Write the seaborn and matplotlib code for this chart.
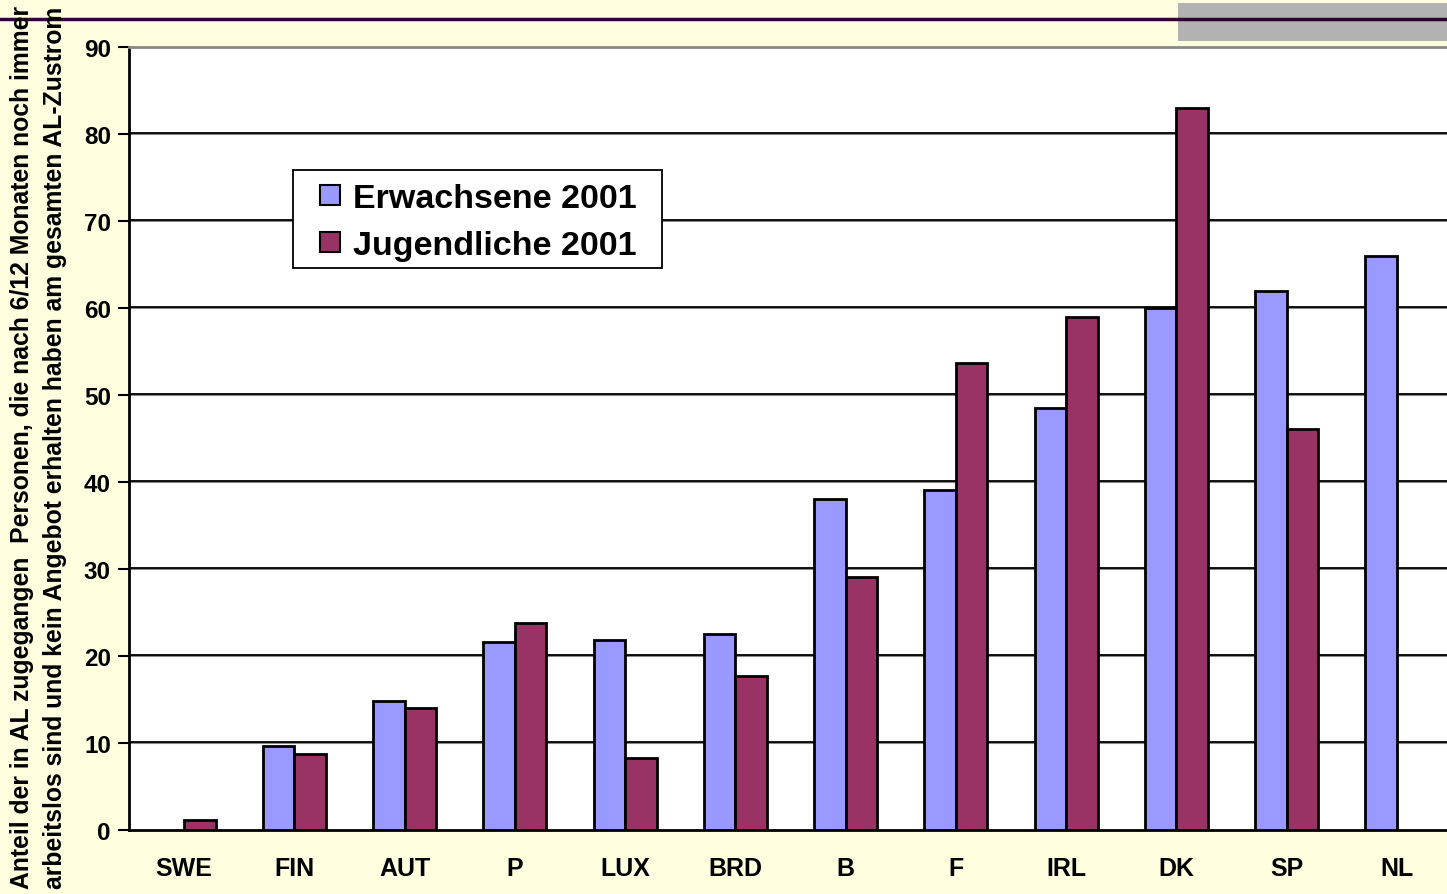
import matplotlib
matplotlib.use("Agg")
import matplotlib.pyplot as plt
import seaborn as sns
import numpy as np
import pandas as pd
from matplotlib.patches import Rectangle
from matplotlib.lines import Line2D

countries = ["SWE", "FIN", "AUT", "P", "LUX", "BRD", "B", "F", "IRL", "DK", "SP", "NL"]
erwachsene = [np.nan, 9.6, 14.8, 21.6, 21.8, 22.5, 38.0, 39.1, 48.5, 60.0, 62.0, 66.0]
jugendliche = [1.1, 8.7, 14.0, 23.8, 8.3, 17.7, 29.1, 53.7, 59.0, 83.0, 46.1, np.nan]
series_names = ["Erwachsene 2001", "Jugendliche 2001"]
series_colors = ["#9999FF", "#993366"]
yticks = [0, 10, 20, 30, 40, 50, 60, 70, 80, 90]
ylabel_lines = [
    "Anteil der in AL zugegangen  Personen, die nach 6/12 Monaten noch immer",
    "arbeitslos sind und kein Angebot erhalten haben am gesamten AL-Zustrom",
]

df = pd.DataFrame({
    "Land": countries * 2,
    "Wert": erwachsene + jugendliche,
    "Serie": [series_names[0]] * len(countries) + [series_names[1]] * len(countries),
})

sns.set_theme(style="white")
plt.rcParams["font.family"] = ["Liberation Sans", "DejaVu Sans"]
plt.rcParams["font.weight"] = "bold"
plt.rcParams["text.color"] = "black"
plt.rcParams["xtick.color"] = "black"
plt.rcParams["ytick.color"] = "black"
plt.rcParams["xtick.labelcolor"] = "black"
plt.rcParams["ytick.labelcolor"] = "black"

W, H = 1447, 895
fig = plt.figure(figsize=(W / 100, H / 100), dpi=100)
fig.patch.set_facecolor("#FFFFE0")

ax = fig.add_axes([129 / W, (H - 831) / H, 1323 / W, (831 - 48) / H])
ax.set_facecolor("white")

sns.barplot(data=df, x="Land", y="Wert", hue="Serie", order=countries,
            hue_order=series_names, palette=series_colors,
            width=0.57, gap=0, edgecolor="black", linewidth=2,
            saturation=1, ax=ax, zorder=3, legend=False)

ax.set_ylim(0, 90)
ax.set_xlim(-0.5, len(countries) - 0.5)
ax.set_yticks(yticks)
ax.set_yticklabels([str(t) for t in yticks], fontweight="bold", color="black")
ax.set_xticks(range(len(countries)))
ax.set_xticklabels(countries, fontweight="bold", color="black")
ax.set_xticks(np.arange(-0.5, len(countries), 1), minor=True)
ax.tick_params(axis="x", which="major", length=0, pad=19, labelsize=18)
ax.tick_params(axis="x", which="minor", length=8, width=1.5, color="black", direction="out")
ax.tick_params(axis="y", length=8, width=1.5, color="black", direction="out", pad=5,
               left=True, labelsize=17.5)
ax.set_xlabel("")
ax.set_ylabel("")

for t in yticks[1:-1]:
    ax.axhline(t, color="#888888", lw=1.5, zorder=1)
    ax.axhline(t + 0.08, color="black", lw=1.3, zorder=1.5)

for side in ["left", "bottom"]:
    ax.spines[side].set_color("black")
    ax.spines[side].set_linewidth(2)
ax.spines["top"].set_color("#888888")
ax.spines["top"].set_linewidth(2)
ax.spines["right"].set_visible(False)

# legend box
fig.add_artist(Rectangle((293 / W, 1 - 269 / H), (662 - 293) / W, (269 - 171) / H,
                         transform=fig.transFigure, facecolor="white",
                         edgecolor="black", lw=1.3, zorder=2))
handles = [Line2D([], [], marker="s", linestyle="none", markersize=15,
                  markerfacecolor=c, markeredgecolor="black", markeredgewidth=1.5)
           for c in series_colors]
leg = fig.legend(handles, series_names, loc="upper left",
                 bbox_to_anchor=(310 / W, 1 - 184 / H), bbox_transform=fig.transFigure,
                 borderaxespad=0, borderpad=0, frameon=False,
                 prop={"weight": "bold", "size": 24.5},
                 handlelength=1.2, handletextpad=0.06, labelspacing=0.47)
leg.set_zorder(5)
for txt in leg.get_texts():
    txt.set_color("black")

fig.text(22 / W, 0.5, ylabel_lines[0], rotation=90, ha="center", va="center",
         fontsize=17.8, fontweight="bold", color="black")
fig.text(55 / W, 0.5, ylabel_lines[1], rotation=90, ha="center", va="center",
         fontsize=17.8, fontweight="bold", color="black")

fig.add_artist(Rectangle((1178 / W, 1 - 42 / H), (W - 1178) / W, 38 / H,
                         transform=fig.transFigure, facecolor="#B2B2B2",
                         edgecolor="none", zorder=0))
fig.add_artist(Line2D([0, 1], [1 - 20 / H, 1 - 20 / H], transform=fig.transFigure,
                      color="#330033", lw=2.5, zorder=1))

fig.savefig("out.png", dpi=100, facecolor=fig.get_facecolor())
